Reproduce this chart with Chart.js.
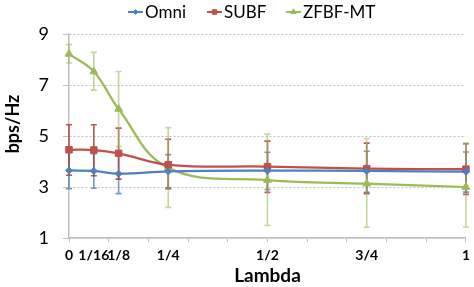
<!DOCTYPE html>
<html>
<head>
<meta charset="utf-8">
<script src="https://cdn.jsdelivr.net/npm/chart.js@4.4.1/dist/chart.umd.min.js"></script>
<style>
html,body{margin:0;padding:0;background:#fff;}
#c{display:block;}
</style>
</head>
<body>
<canvas id="c" width="474" height="287"></canvas>
<script>
// ---- data ----
const lambdaPos = [0, 0.0625, 0.125, 0.25, 0.5, 0.75, 1];
const lambdaLabels = ['0', '1/16', '1/8', '1/4', '1/2', '3/4', '1'];
const seriesNames = ['Omni', 'SUBF', 'ZFBF-MT'];
const yTicks = [1, 3, 5, 7, 9];

const omni   = [3.65, 3.63, 3.52, 3.61, 3.64, 3.63, 3.60];
const omniHi = [4.37, 4.31, 4.30, 4.27, 4.36, 4.40, 4.37];
const omniLo = [2.93, 2.95, 2.74, 2.92, 2.90, 2.79, 2.80];

const subf   = [4.46, 4.45, 4.32, 3.87, 3.80, 3.72, 3.70];
const subfHi = [5.44, 5.44, 5.31, 4.87, 4.80, 4.72, 4.70];
const subfLo = [3.46, 3.44, 3.31, 2.96, 2.79, 2.74, 2.71];

const zfbf   = [8.22, 7.53, 6.06, 3.75, 3.27, 3.13, 3.00];
const zfbfHi = [8.59, 8.28, 7.53, 5.33, 5.08, 4.90, 4.70];
const zfbfLo = [7.86, 6.80, 4.59, 2.20, 1.49, 1.42, 1.43];

// ---- styles ----
const colors = ['#4F81BD', '#C0504D', '#9BBB59'];
const errColors = ['rgba(79,129,189,0.8)', 'rgba(170,60,58,0.85)', 'rgba(155,187,89,0.6)'];
const pointStyles = ['rectRot', 'rect', 'triangle'];
const pointRadii = [3.5, 4.6, 4.5];
const values = [omni, subf, zfbf];
const his = [omniHi, subfHi, zfbfHi];
const los = [omniLo, subfLo, zfbfLo];

Chart.defaults.font.family = 'Lato, "Open Sans", sans-serif';
Chart.defaults.color = '#000';

const toPts = arr => arr.map((v, i) => ({x: lambdaPos[i], y: v}));

const errPlugin = {
  id: 'errbars',
  beforeDatasetsDraw(chart) {
    const {ctx, scales: {x, y}} = chart;
    for (let s = 0; s < values.length; s++) {
      ctx.save();
      ctx.strokeStyle = errColors[s];
      ctx.lineWidth = 1.6;
      for (let i = 0; i < lambdaPos.length; i++) {
        const px = x.getPixelForValue(lambdaPos[i]);
        const pHi = y.getPixelForValue(his[s][i]);
        const pLo = y.getPixelForValue(los[s][i]);
        ctx.beginPath();
        ctx.moveTo(px, pHi); ctx.lineTo(px, pLo);
        ctx.moveTo(px - 3, pHi); ctx.lineTo(px + 3, pHi);
        ctx.moveTo(px - 3, pLo); ctx.lineTo(px + 3, pLo);
        ctx.stroke();
      }
      ctx.restore();
    }
  }
};

const labelPlugin = {
  id: 'labels',
  afterDraw(chart) {
    const ctx = chart.ctx;
    // y axis title
    ctx.save();
    ctx.translate(13, 124);
    ctx.rotate(-Math.PI / 2);
    ctx.font = 'bold 18px Lato, sans-serif';
    ctx.fillStyle = '#000';
    ctx.textAlign = 'center';
    ctx.textBaseline = 'middle';
    ctx.fillText('bps/Hz', 0, 0);
    ctx.restore();
    // legend
    const starts = [128, 207, 286];
    const ly = 12;
    ctx.save();
    ctx.font = '17px Lato, sans-serif';
    ctx.textBaseline = 'middle';
    ctx.textAlign = 'left';
    for (let s = 0; s < seriesNames.length; s++) {
      const x0 = starts[s];
      ctx.strokeStyle = colors[s];
      ctx.fillStyle = colors[s];
      ctx.lineWidth = 2;
      ctx.beginPath(); ctx.moveTo(x0, ly); ctx.lineTo(x0 + 15, ly); ctx.stroke();
      ctx.lineWidth = 1;
      Chart.helpers.drawPoint(ctx, {pointStyle: pointStyles[s], radius: pointRadii[s] * 0.7, borderWidth: 1, rotation: 0},
        x0 + 7.5, ly);
      ctx.fillStyle = '#000';
      ctx.fillText(seriesNames[s], x0 + 17, ly + 1);
    }
    ctx.restore();
  }
};

new Chart(document.getElementById('c'), {
  type: 'line',
  data: {
    datasets: seriesNames.map((n, s) => ({
      label: n,
      data: toPts(values[s]),
      borderColor: colors[s],
      backgroundColor: colors[s],
      borderWidth: 2.25,
      pointStyle: pointStyles[s],
      pointRadius: pointRadii[s],
      pointBorderWidth: 1,
      tension: 0.4,
      clip: false,
      fill: false
    }))
  },
  options: {
    responsive: false,
    devicePixelRatio: 1,
    animation: false,
    layout: {padding: {top: 34, right: 4, left: 0, bottom: 0}},
    plugins: {legend: {display: false}, tooltip: {enabled: false}},
    scales: {
      x: {
        type: 'linear', position: 'bottom', min: 0, max: 1,
        ticks: {stepSize: 0.1, display: false},
        grid: {drawOnChartArea: false, color: '#BFBFBF', tickLength: 4},
        border: {color: '#BFBFBF', width: 1.5},
        afterFit: s => { s.height = 5; }
      },
      x2: {
        type: 'linear', position: 'bottom', min: 0, max: 1,
        afterBuildTicks: s => { s.ticks = lambdaPos.map(v => ({value: v})); },
        ticks: {
          autoSkip: false, maxRotation: 0, padding: 4,
          font: {size: 14, weight: 'bold'}, color: '#000',
          callback: (v, i) => lambdaLabels[i]
        },
        grid: {display: false, drawTicks: false},
        border: {display: false},
        title: {display: true, text: 'Lambda', font: {size: 19, weight: 'bold'}, color: '#000', padding: 0},
        afterFit: s => { s.height = 44; }
      },
      y: {
        min: 1, max: 9,
        afterBuildTicks: s => { s.ticks = yTicks.map(v => ({value: v})); },
        ticks: {font: {size: 18}, color: '#000', padding: 14},
        grid: {color: '#C0C0C0', tickLength: 6, tickColor: '#BFBFBF'},
        border: {color: '#BFBFBF', width: 1.5, dash: [2, 2]},
        afterFit: s => { s.width = 69; }
      }
    }
  },
  plugins: [errPlugin, labelPlugin]
});
</script>
</body>
</html>
